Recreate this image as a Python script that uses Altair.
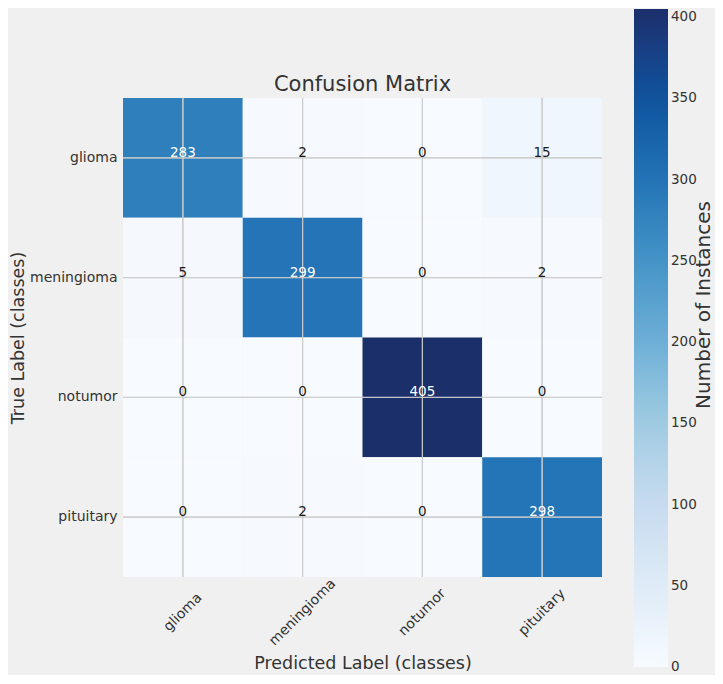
import altair as alt
import pandas as pd

classes = ["glioma", "meningioma", "notumor", "pituitary"]
matrix = [
    [283, 2, 0, 15],
    [5, 299, 0, 2],
    [0, 0, 405, 0],
    [0, 2, 0, 298],
]
blues = ["#f7fbff", "#deebf7", "#c6dbef", "#9ecae1", "#6baed6",
         "#4292c6", "#2171b5", "#0d519c", "#1b2f6b"]
colorbar_ticks = [0, 50, 100, 150, 200, 250, 300, 350, 400]
vmin = -0.01  # tiny offset so the "0" label is centred on the bar end like matplotlib
vmax = 405
chart_title = "Confusion Matrix"
colorbar_title = "Number of Instances"

rows = []
for i, t in enumerate(classes):
    for j, p in enumerate(classes):
        rows.append({"true": t, "pred": p, "count": matrix[i][j]})
df = pd.DataFrame(rows)

FONT = "DejaVu Sans"
TXT = "#333333"

x_enc = alt.X("pred:N", sort=classes, title="Predicted Label (classes)",
              axis=alt.Axis(labelAngle=-45, labelAlign="center", labelBaseline="middle",
                            labelPadding=35, ticks=False, tickSize=0, domain=False, grid=False,
                            labelFontSize=14, labelColor=TXT, labelFont=FONT,
                            titleFontSize=17.5, titleColor=TXT, titleFont=FONT, titleFontWeight="normal",
                            titleY=86, titleBaseline="middle"))
y_enc = alt.Y("true:N", sort=classes, title="True Label (classes)",
              axis=alt.Axis(ticks=False, tickSize=0, domain=False, grid=False, labelPadding=6,
                            labelFontSize=14, labelColor=TXT, labelFont=FONT,
                            titleFontSize=17.5, titleColor=TXT, titleFont=FONT, titleFontWeight="normal",
                            titleX=-105, titleBaseline="middle"))

base = alt.Chart(df).encode(x=x_enc, y=y_enc)

rect = base.mark_rect().encode(
    color=alt.Color("count:Q",
                    scale=alt.Scale(domain=[vmin, vmax], range=blues),
                    legend=alt.Legend(orient="none", legendX=511, legendY=-89,
                                      direction="vertical", gradientLength=658,
                                      gradientThickness=34, title=None,
                                      values=colorbar_ticks, labelFontSize=13.5,
                                      labelOffset=3, labelColor=TXT, labelFont=FONT,
                                      labelOverlap=False,
                                      gradientStrokeWidth=0))
)

vrules = base.mark_rule(color="#cbcbcb", strokeWidth=1, opacity=0.65).encode(
    x=alt.X("pred:N", sort=classes), y=alt.value(0), y2=alt.value(479))
hrules = base.mark_rule(color="#cbcbcb", strokeWidth=1, opacity=0.65).encode(
    y=alt.Y("true:N", sort=classes), x=alt.value(0), x2=alt.value(479))

text = base.mark_text(fontSize=13.5, dy=-5, font=FONT).encode(
    text="count:Q",
    color=alt.condition(alt.datum.count > vmax / 2, alt.value("white"), alt.value("#1a1a1a")))

cb_title = alt.Chart(pd.DataFrame({"t": [colorbar_title]})).mark_text(
    angle=270, fontSize=20, font=FONT, color=TXT, baseline="alphabetic", align="center"
).encode(x=alt.value(587), y=alt.value(207), text="t:N")

main_title = alt.Chart(pd.DataFrame({"t": [chart_title]})).mark_text(
    fontSize=21, font=FONT, color=TXT, baseline="alphabetic", align="center"
).encode(x=alt.value(239.5), y=alt.value(-7), text="t:N")

chart = alt.layer(rect, vrules, hrules, text, cb_title, main_title).properties(
    width=479, height=479,
    autosize=alt.AutoSizeParams(type="none"),
    padding={"left": 115, "top": 90, "right": 113, "bottom": 98},
).configure(background="#f0f0f0").configure_view(stroke=None)

chart.save("out.html", embed_options={"renderer": "svg", "actions": False})
